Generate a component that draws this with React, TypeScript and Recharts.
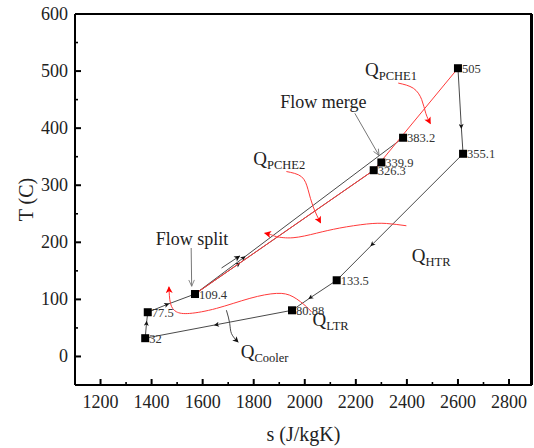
import React from 'react';
import { ComposedChart, Line, Scatter, XAxis, YAxis } from 'recharts';

// State points (entropy s, temperature T) and their labels
const stateS = [1375, 1385, 1570, 1950, 2125, 2270, 2300, 2385, 2600, 2620];
const stateT = [32, 77.5, 109.4, 80.88, 133.5, 326.3, 339.9, 383.2, 505, 355.1];
const stateLabels = ['32', '77.5', '109.4', '80.88', '133.5', '326.3', '339.9', '383.2', '505', '355.1'];

// Process segments (start, arrow position, end)
const segA = [{ s: 1375, T: 32 }, { s: 1380, T: 58 }, { s: 1385, T: 77.5 }];
const segB = [{ s: 1385, T: 77.5 }, { s: 1460, T: 91 }, { s: 1570, T: 109.4 }];
const segMain = [{ s: 1570, T: 109.4 }, { s: 1760, T: 173 }, { s: 2385, T: 383.2 }];
const segLower = [{ s: 1570, T: 109.4 }, { s: 1740, T: 162 }, { s: 2270, T: 326.3 }];
const segTurb = [{ s: 2600, T: 505 }, { s: 2613, T: 403 }, { s: 2620, T: 355.1 }];
const segHtr = [{ s: 2620, T: 355.1 }, { s: 2264, T: 196 }, { s: 2125, T: 133.5 }];
const segLtr = [{ s: 2125, T: 133.5 }, { s: 2022, T: 103 }, { s: 1950, T: 80.88 }];
const segCool = [{ s: 1950, T: 80.88 }, { s: 1654, T: 55.7 }, { s: 1375, T: 32 }];
const redPath = [{ s: 1570, T: 109.4 }, { s: 2270, T: 326.3 }, { s: 2600, T: 505 }];
const splitSideArrow = [{ s: 1674, T: 155 }, { s: 1745, T: 176 }];

// Heat-flow curves
const qPche1Curve = [{ s: 2366, T: 479 }, { s: 2425, T: 470 }, { s: 2458, T: 450 }, { s: 2474, T: 426 }, { s: 2492, T: 408 }];
const qPche2Curve = [{ s: 1928, T: 324 }, { s: 1987, T: 315 }, { s: 2013, T: 292 }, { s: 2033, T: 262 }, { s: 2062, T: 234 }];
const qHtrCurve = [{ s: 2398, T: 229 }, { s: 2320, T: 233 }, { s: 2242, T: 232 }, { s: 2137, T: 225 }, { s: 2046, T: 216 }, { s: 1954, T: 208 }, { s: 1889, T: 210 }, { s: 1870, T: 213 }, { s: 1843, T: 216 }];
const qLtrCurve = [{ s: 2026, T: 78 }, { s: 2007, T: 87 }, { s: 1954, T: 104.6 }, { s: 1889, T: 110.5 }, { s: 1785, T: 101.8 }, { s: 1654, T: 84.2 }, { s: 1549, T: 75.4 }, { s: 1497, T: 78.3 }, { s: 1474, T: 93 }, { s: 1468, T: 122 }];
const coolerCurve = [{ s: 1693, T: 81 }, { s: 1706, T: 58 }, { s: 1713, T: 40 }, { s: 1739, T: 25 }];
const flowSplitArrow = [{ s: 1555, T: 190 }, { s: 1557, T: 123 }];
const flowMergeArrow = [{ s: 2196, T: 426 }, { s: 2291, T: 352 }];

// Annotations
const noteS = [1904, 1416, 2236, 1798, 2419, 2030, 1749];
const noteT = [435.6, 195.3, 490.6, 335.6, 165.4, 53.2, -3];
const noteMain = ['Flow merge', 'Flow split', 'Q', 'Q', 'Q', 'Q', 'Q'];
const noteSub = ['', '', 'PCHE1', 'PCHE2', 'HTR', 'LTR', 'Cooler'];

// Axis ranges and ticks
const xDomain = [1100, 2890];
const yDomain = [-50, 600];
const xMajorTicks = [1200, 1400, 1600, 1800, 2000, 2200, 2400, 2600, 2800];
const xMinorTicks = [1300, 1500, 1700, 1900, 2100, 2300, 2500, 2700];
const yMajorTicks = [0, 100, 200, 300, 400, 500, 600];
const yMinorTicks = [50, 150, 250, 350, 450, 550];

const states = stateS.map((s, i) => ({ s, T: stateT[i], label: stateLabels[i] }));
const notes = noteS.map((s, i) => ({ s, T: noteT[i], main: noteMain[i], sub: noteSub[i] }));
// the domain end is an unlabeled tick that draws the right border of the frame
const xTicks = [...xMajorTicks, ...xMinorTicks, xDomain[1]].sort((a, b) => a - b);
const yTicks = [...yMajorTicks, ...yMinorTicks].sort((a, b) => a - b);

const FONT = '"Liberation Serif", "Times New Roman", serif';
const PLOT = { left: 75, top: 14, width: 457, height: 371 };

const XTick = (props: any) => {
  const { x, y, payload } = props;
  const v = payload.value;
  if (v === xDomain[1]) {
    return <rect x={x - 1} y={y - PLOT.height} width={2} height={PLOT.height} fill="#000" />;
  }
  const major = xMajorTicks.includes(v);
  return (
    <g>
      <line x1={x} y1={y} x2={x} y2={y - (major ? 6 : 3)} stroke="#000" strokeWidth={major ? 2 : 1.6} />
      {major && (
        <text x={x} y={y + 23} textAnchor="middle" fontSize={18} fontFamily={FONT} fill="#222">
          {v}
        </text>
      )}
    </g>
  );
};

const YTick = (props: any) => {
  const { x, y, payload } = props;
  const v = payload.value;
  const major = yMajorTicks.includes(v);
  return (
    <g>
      {v === yDomain[1] && <rect x={x} y={y - 1} width={PLOT.width} height={2} fill="#000" />}
      <line x1={x} y1={y} x2={x + (major ? 6 : 3)} y2={y} stroke="#000" strokeWidth={major ? 2 : 1.6} />
      {major && (
        <text x={x - 7} y={y + 6} textAnchor="end" fontSize={18} fontFamily={FONT} fill="#222">
          {v}
        </text>
      )}
    </g>
  );
};

const StateShape = (props: any) => {
  const { cx, cy, payload } = props;
  return (
    <g>
      <rect x={cx - 4} y={cy - 4} width={8} height={8} fill="#000" />
      <text x={cx + 4} y={cy + 4.5} fontSize={12.5} fontFamily={FONT} fill="#333">
        {payload.label}
      </text>
    </g>
  );
};

const NoteShape = (props: any) => {
  const { cx, cy, payload } = props;
  if (payload.sub) {
    return (
      <text x={cx} y={cy} fontSize={19} fontFamily={FONT} fill="#222">
        {payload.main}
        <tspan fontSize={12.5} dy={4}>{payload.sub}</tspan>
      </text>
    );
  }
  return (
    <text x={cx} y={cy} fontSize={18} fontFamily={FONT} fill="#222">
      {payload.main}
    </text>
  );
};

const XTitle = (props: any) => {
  const vb = props.viewBox || { x: 75, y: 385, width: 457, height: 63 };
  const cx = vb.x + vb.width / 2;
  return (
    <text x={cx} y={vb.y + 56} textAnchor="middle" fontSize={20} fontFamily={FONT} fill="#222">
      s (J/kgK)
    </text>
  );
};

const YTitle = (props: any) => {
  const vb = props.viewBox || { x: 0, y: 14, width: 75, height: 371 };
  const cx = vb.x + 26;
  const cy = vb.y + vb.height / 2;
  return (
    <text x={cx} y={cy} transform={`rotate(-90 ${cx} ${cy})`} textAnchor="middle" dominantBaseline="central" fontSize={20} fontFamily={FONT} fill="#222">
      T (C)
    </text>
  );
};

const blk = '#4a4a4a';
const red = '#ff3a3a';

export default function App() {
  const common = { dataKey: 'T', dot: false, activeDot: false, isAnimationActive: false, legendType: 'none' as const };
  return (
    <div style={{ position: 'absolute', left: 0, top: 0, width: 534, height: 448, background: '#fff' }}>
      <svg width={0} height={0} style={{ position: 'absolute' }}>
        <defs>
          <marker id="amid" viewBox="0 0 10 10" refX="5" refY="5" markerWidth="7" markerHeight="5" orient="auto" markerUnits="userSpaceOnUse">
            <path d="M0,0 L10,5 L0,10 L2.5,5 z" fill="#111" />
          </marker>
          <marker id="ablk" viewBox="0 0 10 10" refX="9" refY="5" markerWidth="8" markerHeight="6" orient="auto" markerUnits="userSpaceOnUse">
            <path d="M0,0 L10,5 L0,10 L2.5,5 z" fill="#111" />
          </marker>
          <marker id="ared" viewBox="0 0 10 10" refX="9" refY="5" markerWidth="9" markerHeight="7" orient="auto" markerUnits="userSpaceOnUse">
            <path d="M0,0 L10,5 L0,10 L2.5,5 z" fill="#ff0000" />
          </marker>
          <marker id="agry" viewBox="0 0 10 10" refX="9" refY="5" markerWidth="8" markerHeight="7" orient="auto" markerUnits="userSpaceOnUse">
            <path d="M0,1 L9,5 L0,9" fill="none" stroke="#777" strokeWidth="1.2" />
          </marker>
        </defs>
      </svg>
      <ComposedChart width={534} height={448} margin={{ top: 14, right: 2, left: 0, bottom: 0 }}>
        <XAxis
          dataKey="s"
          type="number"
          domain={xDomain}
          ticks={xTicks}
          interval={0}
          tick={<XTick />}
          tickLine={false}
          tickSize={0}
          tickMargin={0}
          height={63}
          axisLine={{ stroke: '#000', strokeWidth: 2 }}
          label={<XTitle />}
        />
        <YAxis
          dataKey="T"
          type="number"
          domain={yDomain}
          ticks={yTicks}
          interval={0}
          tick={<YTick />}
          tickLine={false}
          tickSize={0}
          tickMargin={0}
          width={75}
          axisLine={{ stroke: '#000', strokeWidth: 2 }}
          label={<YTitle />}
        />

        <Line {...common} data={segA} type="linear" stroke={blk} strokeWidth={1} markerMid="url(#amid)" />
        <Line {...common} data={segB} type="linear" stroke={blk} strokeWidth={1} markerMid="url(#amid)" />
        <Line {...common} data={segLower} type="linear" stroke={blk} strokeWidth={1} markerMid="url(#amid)" />
        <Line {...common} data={segMain} type="linear" stroke={blk} strokeWidth={1} markerMid="url(#amid)" />
        <Line {...common} data={segTurb} type="linear" stroke={blk} strokeWidth={1} markerMid="url(#amid)" />
        <Line {...common} data={segHtr} type="linear" stroke={blk} strokeWidth={1} markerMid="url(#amid)" />
        <Line {...common} data={segLtr} type="linear" stroke={blk} strokeWidth={1} markerMid="url(#amid)" />
        <Line {...common} data={segCool} type="linear" stroke={blk} strokeWidth={1} markerMid="url(#amid)" />
        <Line {...common} data={splitSideArrow} type="linear" stroke={blk} strokeWidth={1} markerEnd="url(#ablk)" />
        <Line {...common} data={redPath} type="linear" stroke={red} strokeWidth={1} />

        <Line {...common} data={qPche1Curve} type="natural" stroke={red} strokeWidth={1} markerEnd="url(#ared)" />
        <Line {...common} data={qPche2Curve} type="natural" stroke={red} strokeWidth={1} markerEnd="url(#ared)" />
        <Line {...common} data={qHtrCurve} type="natural" stroke={red} strokeWidth={1} markerEnd="url(#ared)" />
        <Line {...common} data={qLtrCurve} type="natural" stroke={red} strokeWidth={1} markerEnd="url(#ared)" />
        <Line {...common} data={coolerCurve} type="natural" stroke={blk} strokeWidth={1} markerEnd="url(#ablk)" />
        <Line {...common} data={flowSplitArrow} type="linear" stroke="#777" strokeWidth={1} markerEnd="url(#agry)" />
        <Line {...common} data={flowMergeArrow} type="linear" stroke="#777" strokeWidth={1} markerEnd="url(#agry)" />

        <Scatter data={states} dataKey="T" shape={<StateShape />} isAnimationActive={false} legendType="none" />
        <Scatter data={notes} dataKey="T" shape={<NoteShape />} isAnimationActive={false} legendType="none" />
      </ComposedChart>
      <div
        style={{
          position: 'absolute',
          left: PLOT.left,
          top: PLOT.top - 1,
          width: PLOT.width - 2,
          height: PLOT.height - 1,
          borderTop: '2px solid #000',
          borderRight: '2px solid #000',
          pointerEvents: 'none',
          boxSizing: 'content-box',
        }}
      />
    </div>
  );
}
